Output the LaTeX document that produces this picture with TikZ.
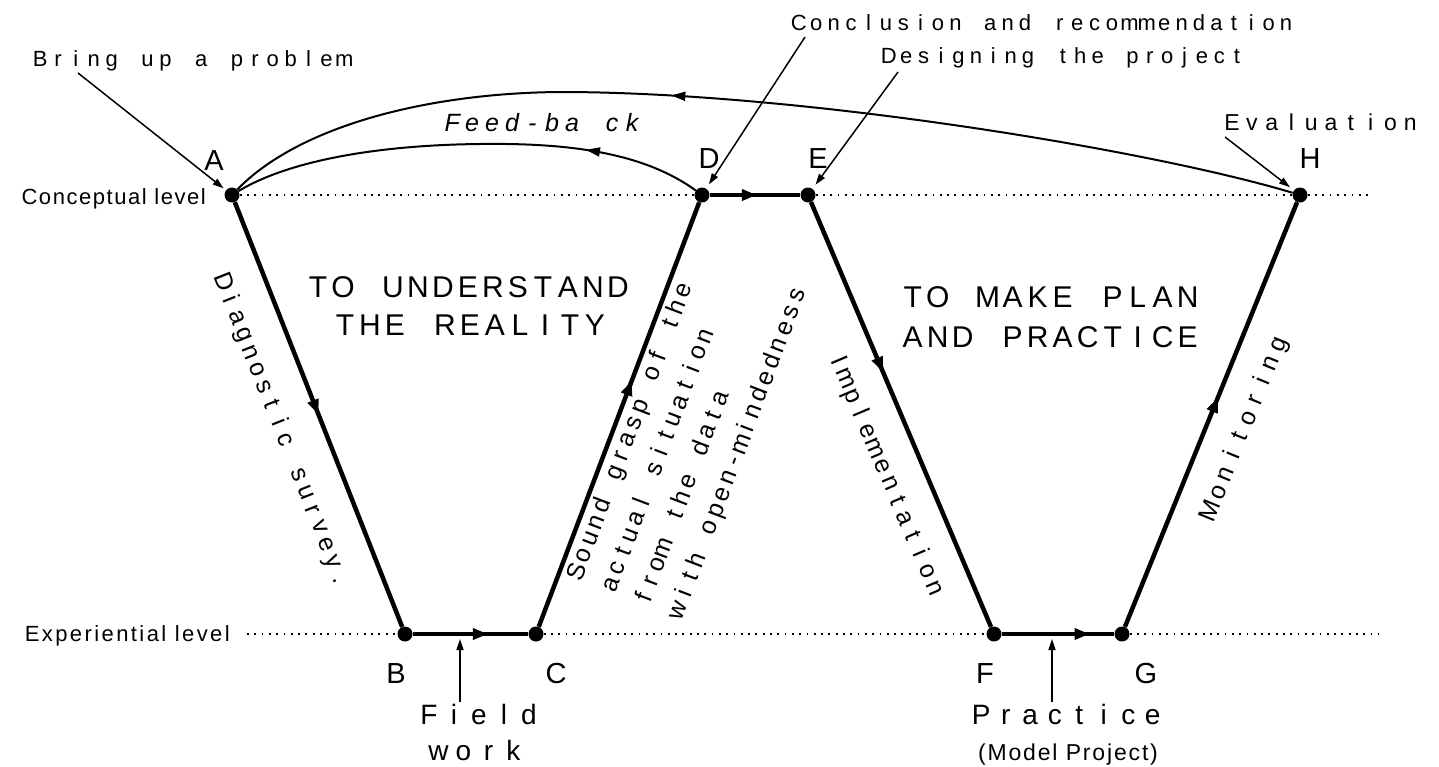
\documentclass[tikz,border=0pt]{standalone}
\usepackage{fontspec}
\setmainfont{Liberation Sans}
\usetikzlibrary{arrows.meta,decorations.markings}

% fixed-pitch lettering: every character sits centred in a cell of the given width
\ExplSyntaxOn
\NewDocumentCommand\pitch{mm}{\str_map_inline:nn{#2}{\makebox[#1][c]{##1}}}
\ExplSyntaxOff
\newcommand\setfs[1]{\fontsize{#1}{#1}\selectfont}

\tikzset{
  dot/.style={circle, fill=black, inner sep=0pt, minimum size=15pt},
  lbl/.style={inner sep=0pt, font=\setfs{29}},
  txt/.style={inner sep=0pt, font=\setfs{22}},
  region/.style={inner sep=0pt, font=\setfs{30}},
  rot/.style={inner sep=0pt, font=\setfs{25}},
  route/.style={line width=4.5pt},
  feedback/.style={line width=2pt},
  dotline/.style={line width=1.8pt, dash pattern=on 1.8pt off 5.5pt},
  pointer/.style={line width=1.5pt, -{Triangle[length=11pt,width=7pt]}},
  midarrow/.style={postaction={decorate}, decoration={markings,
      mark=at position #1 with {\arrow{Triangle[length=15pt,width=11pt]}}}},
  fbarrow/.style={postaction={decorate}, decoration={markings,
      mark=at position #1 with {\arrow{Triangle[length=14pt,width=9pt]}}}},
}

\begin{document}
\begin{tikzpicture}[x=1pt,y=-1pt]
\useasboundingbox (0,0) rectangle (1439,766);

% stations of the cycle
\node[dot] (A) at (232,195) {};
\node[dot] (B) at (405,634) {};
\node[dot] (C) at (536,634) {};
\node[dot] (D) at (702,195) {};
\node[dot] (E) at (808,195) {};
\node[dot] (F) at (994,634) {};
\node[dot] (G) at (1122,634) {};
\node[dot] (H) at (1300,195) {};

\node[lbl, anchor=base] (lA) at (214,170) {A};
\node[lbl, anchor=base] (lD) at (709,168) {D};
\node[lbl, anchor=base] (lE) at (818,168) {E};
\node[lbl, anchor=base] (lH) at (1310,168) {H};
\node[lbl, anchor=base] (lB) at (396,683) {B};
\node[lbl, anchor=base] (lC) at (556,683) {C};
\node[lbl, anchor=base] (lF) at (985,683) {F};
\node[lbl, anchor=base] (lG) at (1146,683) {G};

% the two levels
\coordinate (cEnd) at (1372,195);
\coordinate (eStart) at (247,634);
\coordinate (eEnd) at (1378,634);
\draw[dotline] (A) -- (D);
\draw[dotline] (E) -- (H) -- (cEnd);
\draw[dotline] (eStart) -- (B);
\draw[dotline] (C) -- (F);
\draw[dotline] (G) -- (eEnd);

\node[anchor=base east, inner sep=0pt, font=\setfs{22}\addfontfeature{LetterSpace=7}] (tConc) at (206,204) {Conceptual level};
\node[anchor=base east, inner sep=0pt, font=\setfs{22}\addfontfeature{LetterSpace=11}] (tExp) at (230,641) {Experiential level};

% main route
\draw[route, midarrow=0.50] (A) -- (B);
\draw[route, midarrow=0.65] (B) -- (C);
\draw[route, midarrow=0.58] (C) -- (D);
\draw[route, midarrow=0.52] (D) -- (E);
\draw[route, midarrow=0.40] (E) -- (F);
\draw[route, midarrow=0.78] (F) -- (G);
\draw[route, midarrow=0.54] (G) -- (H);

% feed-back loops
\draw[feedback, fbarrow=0.25] (D) .. controls (640,150) and (560,143) .. (480,144)
      .. controls (380,145) and (290,160) .. (A);
\draw[feedback, fbarrow=0.58] (H) .. controls (1150,150) and (800,92) .. (560,92)
      .. controls (430,93) and (300,125) .. (A);
\node[anchor=base west, inner sep=0pt, font=\setfs{25}\itshape] (tFeed) at (442,131) {\pitch{20pt}{Feed-ba ck}};

% annotations with pointers
\node[txt, anchor=base west] (tBring) at (31,66) {\pitch{17.9pt}{Bring up a problem}};
\node[txt, anchor=base west] (tConcl) at (790,30) {\pitch{17.4pt}{Conclusion and recommendation}};
\node[txt, anchor=base west] (tDes) at (880,63) {\pitch{17.4pt}{Designing the project}};
\node[inner sep=0pt, font=\setfs{23}, anchor=base west] (tEval) at (1222,130) {\pitch{19.8pt}{Evaluation}};

\coordinate (pBring) at (78,73);
\coordinate (pConcl) at (805,37);
\coordinate (pDes) at (898,72);
\coordinate (pEval) at (1225,137);
\draw[pointer, shorten >=3pt] (pBring) -- (A);
\draw[pointer, shorten >=5pt] (pConcl) -- (D);
\draw[pointer, shorten >=5pt] (pDes) -- (E);
\draw[pointer, shorten >=5pt] (pEval) -- (H);

\node[inner sep=0pt, font=\setfs{28}, anchor=base] (tField) at (479,724) {\pitch{25pt}{Field}};
\node[inner sep=0pt, font=\setfs{28}, anchor=base] (tWork) at (476,760) {\pitch{25pt}{work}};
\node[inner sep=0pt, font=\setfs{28}, anchor=base] (tPract) at (1067,724) {\pitch{24.5pt}{Practice}};
\node[inner sep=0pt, font=\setfs{23}\addfontfeature{LetterSpace=8}, anchor=base] (tModel) at (1068,760) {(Model Project)};

\coordinate (pField) at (460,702);
\coordinate (tipField) at (460,639);
\coordinate (pPract) at (1052,702);
\coordinate (tipPract) at (1052,639);
\draw[pointer] (pField) -- (tipField);
\draw[pointer] (pPract) -- (tipPract);

% the two phases
\node[region, anchor=base] (tUnd1) at (468,297) {\pitch{25pt}{TO UNDERSTAND}};
\node[region, anchor=base] (tUnd2) at (470,335) {\pitch{25pt}{THE REALITY}};
\node[region, anchor=base west] (tMake1) at (900,307) {\pitch{25pt}{TO MAKE PLAN}};
\node[region, anchor=base west] (tMake2) at (900,347) {\pitch{25pt}{AND PRACTICE}};

% labels along the route
\node[rot, rotate=-68.5] (tDiag) at (281.5,431) {\pitch{18.8pt}{Diagnostic survey.}};
\node[rot, rotate=-67] (tImpl) at (886,475) {\pitch{19pt}{Implementation}};
\node[rot, rotate=67.9] (tMon) at (1245,428) {\pitch{20pt}{Monitoring}};
\node[rot, rotate=69.3, align=left, font=\fontsize{25}{36}\selectfont] (tSound) at (688,434)
  {\pitch{17.7pt}{Sound grasp of the}\\ \pitch{17.7pt}{actual situation}\\
   \pitch{17.7pt}{from the data}\\ \pitch{17.7pt}{with open-mindedness}};
\end{tikzpicture}
\end{document}
